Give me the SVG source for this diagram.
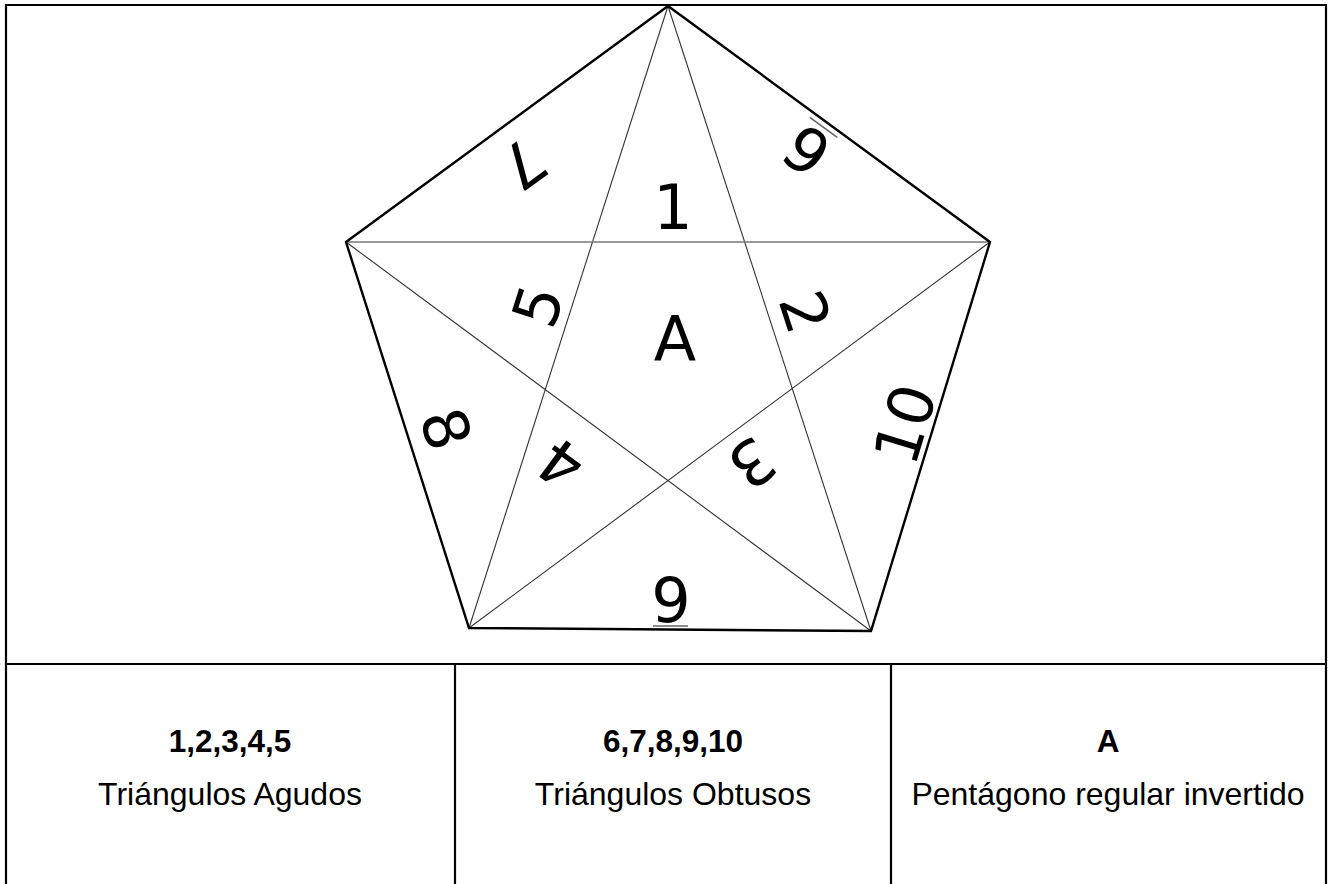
<svg xmlns="http://www.w3.org/2000/svg" width="1330" height="884" viewBox="0 0 1330 884">
<style>
.frame{fill:none;stroke:#000;stroke-width:2.2}
.edge{fill:none;stroke:#000;stroke-width:2.4;stroke-linejoin:miter}
.star{fill:none;stroke:#333;stroke-width:1.1}
.mid{fill:none;stroke:#777;stroke-width:1.6}
.num{font-family:"DejaVu Sans",sans-serif;font-size:62px;fill:#000;text-anchor:middle}
.ul{stroke:#666;stroke-width:1.6}
.tb{font-family:"Liberation Sans",Arial,sans-serif;font-size:31.5px;font-weight:bold;fill:#000;text-anchor:middle}
.tr{font-family:"Liberation Sans",Arial,sans-serif;font-size:32px;fill:#000;text-anchor:middle}
</style>
<rect width="1330" height="884" fill="#fff"/>
<g id="table">
<path class="frame" d="M6,890 V5 H1326 V890"/>
<line class="frame" x1="6" y1="664" x2="1326" y2="664"/>
<line class="frame" x1="455" y1="664" x2="455" y2="890"/>
<line class="frame" x1="891" y1="664" x2="891" y2="890"/>
</g>
<g id="connectors">
<line class="star" x1="668" y1="6" x2="469" y2="628"/>
<line class="star" x1="668" y1="6" x2="871" y2="631"/>
<line class="mid" x1="346" y1="242" x2="990" y2="242"/>
<line class="star" x1="346" y1="242" x2="871" y2="631"/>
<line class="star" x1="990" y1="242" x2="469" y2="628"/>
</g>
<g id="pentagon">
<polygon class="edge" points="668,6 990,242 871,631 469,628 346,242"/>
</g>
<g id="labels">
<text class="num" transform="translate(673,207)" y="22">1</text>
<text class="num" transform="translate(538,306) rotate(-72)" y="22">5</text>
<text class="num" transform="translate(805,312) rotate(72)" y="22">2</text>
<text class="num" transform="translate(752,463) rotate(143.5)" y="22">3</text>
<text class="num" transform="translate(561,464) rotate(-143.5)" y="22">4</text>
<text class="num" transform="translate(675,339)" y="22">A</text>
<g transform="translate(807,150) rotate(-143.8)">
<text class="num" y="22">6</text>
<line class="ul" x1="-17" y1="28" x2="17" y2="28"/>
</g>
<text class="num" transform="translate(523,164) rotate(144)" y="22">7</text>
<text class="num" transform="translate(446,429) rotate(72.5)" y="22">8</text>
<g transform="translate(671,598)">
<text class="num" y="24">9</text>
<line class="ul" x1="-18" y1="28" x2="17" y2="28"/>
</g>
<text class="num" transform="translate(905,424) rotate(-73)" y="22">10</text>
</g>
<g id="legend">
<text class="tb" x="230" y="752">1,2,3,4,5</text>
<text class="tr" x="230" y="805">Triángulos Agudos</text>
<text class="tb" x="673" y="752">6,7,8,9,10</text>
<text class="tr" x="673" y="805">Triángulos Obtusos</text>
<text class="tb" x="1108" y="752">A</text>
<text class="tr" x="1108" y="805">Pentágono regular invertido</text>
</g>
</svg>
